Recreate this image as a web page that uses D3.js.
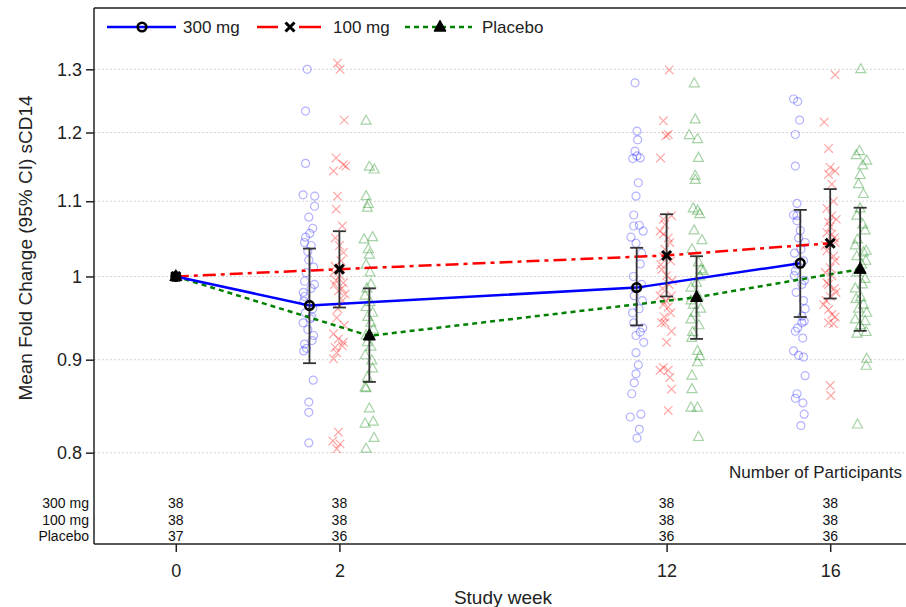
<!DOCTYPE html>
<html><head><meta charset="utf-8">
<script src="https://cdn.jsdelivr.net/npm/d3@7"></script>
<style>body{margin:0;background:#fff} svg{display:block;font-family:"Liberation Sans",Arial,sans-serif}</style>
</head><body><svg id="c" width="906" height="607"></svg>
<script>
// ---------- data ----------
const weeks = [0, 2, 12, 16];
const visitSlot = [0, 1, 3, 4];
const groups = ["300 mg", "100 mg", "Placebo"];
const yTicks = [0.8, 0.9, 1, 1.1, 1.2, 1.3];

const mean300 = [1.0, 0.964, 0.986, 1.017];
const lo300 = [null, 0.896, 0.940, 0.950];
const hi300 = [null, 1.036, 1.037, 1.088];
const mean100 = [1.0, 1.0093, 1.027, 1.043];
const lo100 = [null, 0.9615, 0.975, 0.9725];
const hi100 = [null, 1.059, 1.082, 1.117];
const meanPbo = [1.0, 0.9276, 0.974, 1.0093];
const loPbo = [null, 0.875, 0.924, 0.9335];
const hiPbo = [null, 0.985, 1.026, 1.091];

const n300 = [38, 38, 38, 38];
const n100 = [38, 38, 38, 38];
const nPbo = [37, 36, 36, 36];

// individual fold changes: [value, horizontal jitter in visit-slot units]
const ind300_w2 = [[1.30,-0.014],[1.233,-0.024],[1.154,-0.024],[1.109,-0.039],[1.107,0.032],[1.093,0.031],[1.078,-0.004],[1.063,0.02],[1.056,0.002],[1.051,-0.024],[1.044,-0.03],[1.032,-0.01],[1.021,-0.004],[0.994,-0.03],[0.969,-0.035],[0.943,-0.039],[0.922,0.016],[0.913,-0.018],[0.910,-0.035],[0.877,0.023],[0.853,-0.004],[0.842,-0.004],[0.810,-0.004],[1.005,-0.02],[0.985,0.01],[0.975,-0.03],[0.960,0.02],[0.955,-0.025],[0.950,0.015],[0.935,-0.01],[0.928,0.025],[0.965,-0.005],[1.012,0.025],[0.990,0.03],[0.918,-0.03],[0.948,0.005],[1.040,0.01],[0.980,-0.038]];
const ind100_w2 = [[1.310,-0.012],[1.300,0.004],[1.219,0.029],[1.162,-0.02],[1.143,-0.036],[1.152,0.024],[1.150,0.039],[1.107,-0.012],[1.089,-0.02],[1.066,0.018],[1.031,0.024],[1.013,-0.026],[1.005,-0.036],[1.001,0.004],[0.992,0.024],[0.982,-0.006],[0.978,0.035],[0.949,-0.016],[0.930,-0.036],[0.924,-0.006],[0.920,0.024],[0.916,0.018],[0.914,-0.026],[0.908,-0.016],[0.901,-0.036],[0.821,-0.006],[0.812,-0.04],[0.809,0.004],[0.804,-0.016],[1.04,0.0],[1.02,0.01],[0.995,-0.02],[0.97,0.02],[0.96,-0.01],[0.94,0.03],[0.985,0.015],[1.05,-0.025],[0.99,-0.03]];
const indPbo_w2 = [[1.218,-0.02],[1.149,0],[1.145,0.03],[1.107,-0.02],[1.096,-0.006],[1.091,-0.012],[1.048,-0.032],[1.051,0.02],[1.035,-0.006],[1.028,0],[1.005,0.004],[0.976,-0.026],[0.968,0.004],[0.962,-0.02],[0.943,0.009],[0.920,-0.012],[0.899,0.015],[0.880,-0.012],[0.869,-0.026],[0.868,-0.02],[0.846,0],[0.830,-0.026],[0.832,0.024],[0.815,0.029],[0.804,-0.02],[0.99,0.01],[0.985,-0.015],[0.955,0.02],[0.95,-0.01],[0.935,0.025],[0.928,-0.02],[0.915,0.01],[0.905,-0.025],[0.89,0.02],[1.015,-0.02],[0.93,0.0]];
const ind300_w12 = [[1.278,-0.01],[1.202,0.002],[1.189,0.006],[1.172,-0.01],[1.161,-0.024],[1.162,0.022],[1.165,0.002],[1.126,0.01],[1.107,-0.004],[1.081,-0.018],[1.066,-0.018],[1.067,0.016],[1.059,0.04],[1.051,-0.035],[1.043,-0.004],[1.016,0.022],[0.976,-0.015],[0.943,-0.018],[0.937,0.037],[0.932,0.022],[0.928,-0.004],[0.920,0.043],[0.908,-0.004],[0.894,0.01],[0.884,-0.004],[0.874,-0.015],[0.862,-0.03],[0.837,-0.039],[0.840,0.026],[0.824,0.016],[0.815,0.002],[1.00,-0.02],[0.99,0.03],[0.985,-0.01],[0.96,0.015],[0.955,-0.025],[1.03,0.03],[0.97,0.035]];
const ind100_w12 = [[1.299,0.016],[1.218,-0.02],[1.197,0.01],[1.195,-0.004],[1.162,-0.037],[1.075,-0.02],[1.068,-0.01],[1.059,-0.04],[1.055,-0.02],[1.044,0.02],[1.009,-0.03],[1.001,0.0],[0.976,-0.04],[0.976,0.03],[0.965,-0.02],[0.962,0.01],[0.943,-0.03],[0.943,-0.01],[0.933,0.03],[0.891,-0.02],[0.888,-0.04],[0.888,0.01],[0.880,0.02],[0.867,0.03],[0.844,0.01],[1.035,-0.01],[1.02,0.025],[1.015,-0.035],[0.99,0.015],[0.985,-0.025],[0.955,0.025],[0.95,-0.015],[1.05,0.01],[0.97,-0.005],[1.025,-0.02],[0.92,0.0],[0.995,0.035],[1.08,0.03]];
const indPbo_w12 = [[1.277,-0.014],[1.220,-0.008],[1.196,-0.045],[1.190,0.006],[1.162,0.012],[1.136,-0.008],[1.130,-0.008],[1.090,-0.02],[1.087,0.006],[1.082,0.02],[1.047,0.033],[1.035,-0.028],[1.018,0.012],[1.009,0.027],[1.007,0.041],[0.992,0],[0.986,-0.034],[0.947,-0.034],[0.932,-0.024],[0.910,0.006],[0.904,0.02],[0.897,0.006],[0.882,-0.028],[0.867,-0.028],[0.847,-0.034],[0.847,0.006],[0.816,0.012],[0.975,0.01],[0.965,-0.02],[0.96,0.025],[0.955,-0.01],[0.94,0.015],[1.06,-0.015],[1.0,0.02],[0.925,-0.03],[0.97,-0.035]];
const ind300_w16 = [[1.252,-0.041],[1.248,-0.016],[1.219,-0.004],[1.197,-0.03],[1.150,-0.03],[1.097,-0.02],[1.081,-0.041],[1.080,-0.02],[1.073,-0.02],[1.044,0.03],[1.035,0.004],[1.007,-0.03],[1.001,-0.037],[0.970,0.02],[0.951,0.01],[0.945,0.024],[0.943,0.01],[0.937,-0.016],[0.933,-0.03],[0.910,-0.041],[0.905,-0.01],[0.903,0.02],[0.882,0.03],[0.862,-0.02],[0.857,-0.03],[0.852,0.016],[0.840,0.024],[0.828,0.004],[1.06,0.0],[1.02,0.02],[1.015,-0.02],[0.99,0.01],[0.98,-0.025],[0.96,0.03],[0.995,0.025],[1.03,-0.035],[0.925,0.015],[1.05,-0.01]];
const ind100_w16 = [[1.291,0.03],[1.216,-0.037],[1.176,-0.01],[1.148,0],[1.143,0.03],[1.138,-0.01],[1.124,0.01],[1.075,0.037],[1.071,-0.01],[1.057,-0.02],[1.055,0.01],[1.044,0.03],[1.033,-0.02],[1.026,0.02],[1.011,0],[1.001,0.01],[0.992,-0.02],[0.965,-0.04],[0.959,-0.01],[0.953,0.01],[0.943,-0.01],[0.942,0.02],[0.871,0],[0.860,0.004],[1.10,0.02],[1.09,-0.02],[1.065,0.0],[1.04,-0.03],[1.02,0.03],[1.005,-0.03],[0.985,0.025],[0.975,0.0],[0.97,-0.025],[0.95,0.03],[1.08,0.01],[1.05,0.025],[0.98,0.035],[0.99,-0.01]];
const indPbo_w16 = [[1.300,0.004],[1.166,-0.024],[1.172,-0.004],[1.158,0.04],[1.151,0.016],[1.137,0],[1.124,-0.01],[1.080,-0.02],[1.068,0.016],[1.048,-0.016],[1.033,0.037],[1.026,-0.02],[1.031,0.02],[0.997,0.03],[0.972,-0.024],[0.974,0.004],[0.955,0.04],[0.947,-0.03],[0.945,0.03],[0.930,-0.02],[0.932,0.037],[0.901,0.04],[0.893,0.037],[0.829,-0.016],[1.09,0.0],[1.06,0.03],[1.04,-0.03],[1.015,0.01],[1.005,-0.02],[0.99,0.015],[0.985,-0.03],[0.965,0.02],[0.96,-0.01],[1.02,0.035],[0.94,0.0],[1.11,0.02]];

// ---------- chart ----------
const svg = d3.select("#c");
const x = d3.scaleLinear().domain([-0.5, 4.5]).range([94, 912]);
const slotOf = d3.scaleOrdinal(weeks, visitSlot);
const y = d3.scaleLog().domain([0.8, 1.3]).range([452.7, 69.3]);
const shift = [-0.183, 0, 0.183];
const colors = ["#0000ff", "#ff0000", "#008000"];
const dashes = [null, "13,5,4,5", "5,4"];
const legendDashes = [null, "21,21,22", "5,4"];
const axisTop = 8, axisBottom = 544, axisLeft = 94, axisRight = 906;

// gridlines
svg.append("g").selectAll("line").data(yTicks).join("line")
  .attr("x1", axisLeft).attr("x2", axisRight)
  .attr("y1", d => y(d)).attr("y2", d => y(d))
  .attr("stroke", "#d4d4d4").attr("stroke-width", 1).attr("stroke-dasharray", "2,2");

// frame lines
svg.append("line").attr("x1", axisLeft).attr("x2", axisRight).attr("y1", axisTop).attr("y2", axisTop)
  .attr("stroke", "#555").attr("stroke-width", 2);
svg.append("line").attr("x1", axisLeft).attr("x2", axisLeft).attr("y1", axisTop).attr("y2", axisBottom)
  .attr("stroke", "#222").attr("stroke-width", 1.5);
svg.append("line").attr("x1", axisLeft).attr("x2", axisRight).attr("y1", axisBottom).attr("y2", axisBottom)
  .attr("stroke", "#222").attr("stroke-width", 1.5);

// y axis
const ya = svg.append("g").attr("transform", `translate(${axisLeft},0)`)
  .call(d3.axisLeft(y).tickValues(yTicks).tickFormat(d => String(d)).tickSize(8).tickPadding(4));
ya.select(".domain").remove();
ya.selectAll("line").attr("stroke", "#222").attr("stroke-width", 1.5);
ya.selectAll("text").attr("font-size", 18).attr("fill", "#222").attr("font-family", '"Liberation Sans",Arial,sans-serif');

// x axis
const xa = svg.append("g").attr("transform", `translate(0,${axisBottom})`)
  .call(d3.axisBottom(x).tickValues(visitSlot).tickFormat((d, i) => weeks[i]).tickSize(8).tickPadding(12));
xa.select(".domain").remove();
xa.selectAll("line").attr("stroke", "#222").attr("stroke-width", 1.5);
xa.selectAll("text").attr("font-size", 18).attr("fill", "#222").attr("font-family", '"Liberation Sans",Arial,sans-serif');

// axis titles
svg.append("text").attr("transform", "translate(25,248) rotate(-90)")
  .attr("text-anchor", "middle").attr("dominant-baseline", "central")
  .attr("font-size", 19).attr("fill", "#222").text("Mean Fold Change (95% CI) sCD14");
svg.append("text").attr("x", 503).attr("y", 597)
  .attr("text-anchor", "middle").attr("dominant-baseline", "central")
  .attr("font-size", 19).attr("fill", "#222").text("Study week");

// marker paths
const circlePath = r => `M${-r},0A${r},${r} 0 1,0 ${r},0A${r},${r} 0 1,0 ${-r},0Z`;
const xPath = s => `M${-s},${-s}L${s},${s}M${-s},${s}L${s},${-s}`;
const triPath = (w, h) => `M0,${-h * 0.62}L${w},${h * 0.38}L${-w},${h * 0.38}Z`;

// individual points
const indiv = [
  [ind300_w2, ind300_w12, ind300_w16],
  [ind100_w2, ind100_w12, ind100_w16],
  [indPbo_w2, indPbo_w12, indPbo_w16]
];
const indWeeks = [2, 12, 16];
const scatter = svg.append("g");
indiv.forEach((byWeek, g) => {
  byWeek.forEach((pts, k) => {
    const s = slotOf(indWeeks[k]) + shift[g];
    scatter.selectAll(null).data(pts).join("path")
      .attr("transform", d => `translate(${x(s + d[1])},${y(d[0])})`)
      .attr("d", g === 0 ? circlePath(4) : g === 1 ? xPath(4.3) : triPath(5, 9))
      .attr("fill", "none").attr("stroke", colors[g])
      .attr("stroke-opacity", g === 0 ? 0.3 : 0.35).attr("stroke-width", 1.2);
  });
});

// mean lines
const means = [mean300, mean100, meanPbo];
const los = [lo300, lo100, loPbo];
const his = [hi300, hi100, hiPbo];
const pos = (g, i) => x(slotOf(weeks[i]) + (weeks[i] === 0 ? 0 : shift[g]));
const lineGen = d3.line();
[2, 1, 0].forEach(g => {
  svg.append("path").attr("d", lineGen(means[g].map((v, i) => [pos(g, i), y(v)])))
    .attr("fill", "none").attr("stroke", colors[g]).attr("stroke-width", 2.5)
    .attr("stroke-dasharray", dashes[g]);
});

// error bars
const eb = svg.append("g").attr("stroke", "#333").attr("stroke-width", 1.8);
means.forEach((m, g) => {
  m.forEach((v, i) => {
    if (los[g][i] == null) return;
    const cx = pos(g, i);
    eb.append("line").attr("x1", cx).attr("x2", cx).attr("y1", y(his[g][i])).attr("y2", y(los[g][i]));
    eb.append("line").attr("x1", cx - 6.5).attr("x2", cx + 6.5).attr("y1", y(his[g][i])).attr("y2", y(his[g][i]));
    eb.append("line").attr("x1", cx - 6.5).attr("x2", cx + 6.5).attr("y1", y(los[g][i])).attr("y2", y(los[g][i]));
  });
});

// mean markers
function meanMarker(sel, g) {
  if (g === 0) sel.attr("d", circlePath(4.3)).attr("fill", "none").attr("stroke", "#000").attr("stroke-width", 2.6);
  else if (g === 1) sel.attr("d", xPath(4.5)).attr("fill", "none").attr("stroke", "#000").attr("stroke-width", 3);
  else sel.attr("d", triPath(6, 11)).attr("fill", "#000").attr("stroke", "#000").attr("stroke-width", 1);
}
means.forEach((m, g) => {
  m.forEach((v, i) => {
    svg.append("path").attr("transform", `translate(${pos(g, i)},${y(v)})`).call(meanMarker, g);
  });
});

// legend
const legend = [
  {g: 0, x1: 107, x2: 176, mx: 142, tx: 183},
  {g: 1, x1: 257, x2: 322, mx: 290, tx: 333},
  {g: 2, x1: 405, x2: 472, mx: 440, tx: 482}
];
const ly = 27;
legend.forEach(l => {
  svg.append("line").attr("x1", l.x1).attr("x2", l.x2).attr("y1", ly).attr("y2", ly)
    .attr("stroke", colors[l.g]).attr("stroke-width", 2.5).attr("stroke-dasharray", legendDashes[l.g]);
  svg.append("path").attr("transform", `translate(${l.mx},${ly})`).call(meanMarker, l.g);
  svg.append("text").attr("x", l.tx).attr("y", ly).attr("dominant-baseline", "central")
    .attr("font-size", 17).attr("fill", "#222").text(groups[l.g]);
});

// participant table
svg.append("text").attr("x", 902).attr("y", 472).attr("text-anchor", "end").attr("dominant-baseline", "central")
  .attr("font-size", 17).attr("fill", "#222").text("Number of Participants");
const counts = [n300, n100, nPbo];
const rowY = [503, 519.5, 536];
counts.forEach((row, r) => {
  svg.append("text").attr("x", 89).attr("y", rowY[r]).attr("text-anchor", "end").attr("dominant-baseline", "central")
    .attr("font-size", 14).attr("fill", "#111").text(groups[r]);
  svg.append("g").selectAll("text").data(row).join("text")
    .attr("x", (d, i) => x(slotOf(weeks[i]))).attr("y", rowY[r])
    .attr("text-anchor", "middle").attr("dominant-baseline", "central")
    .attr("font-size", 14).attr("fill", "#111").text(d => d);
});
</script>
</body></html>
